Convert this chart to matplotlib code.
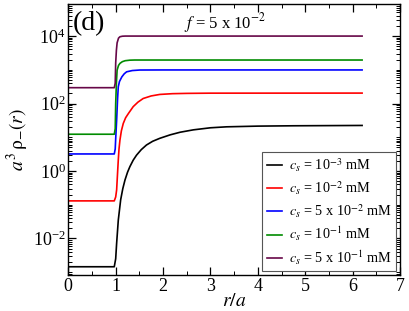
import matplotlib
matplotlib.use('Agg')
import matplotlib.pyplot as plt
from matplotlib.ticker import FixedLocator, LogLocator, MultipleLocator, NullFormatter

plt.rcParams['font.family'] = 'serif'
plt.rcParams['font.serif'] = ['Liberation Serif', 'DejaVu Serif']
plt.rcParams['mathtext.fontset'] = 'stix'

# density profiles: r/a and a^3 rho_-(r)
r_black = [0, 0.97, 1.0, 1.02, 1.055, 1.105, 1.15, 1.196, 1.25, 1.30, 1.37, 1.44, 1.54, 1.65, 1.78, 1.93, 2.15, 2.36, 2.64, 3.0, 3.34, 4.0, 4.75, 6.2]
v_black = [1.45e-3, 1.45e-3, 2.5e-3, 7.2e-3, 0.035, 0.14, 0.30, 0.54, 0.92, 1.35, 2.1, 2.95, 4.3, 5.9, 7.6, 9.3, 11.8, 14.1, 16.6, 19.1, 20.4, 21.4, 21.9, 22.4]

r_red = [0, 0.97, 1.0, 1.02, 1.04, 1.055, 1.07, 1.09, 1.12, 1.16, 1.21, 1.27, 1.37, 1.47, 1.58, 1.75, 1.93, 2.2, 2.5, 3.0, 6.2]
v_red = [0.13, 0.13, 0.17, 0.275, 0.9, 2.14, 4.5, 8.3, 15.5, 25.7, 38, 51, 81, 110, 141, 168, 186, 196, 200, 203, 204]

r_blue = [0, 0.97, 0.99, 1.0, 1.02, 1.04, 1.055, 1.08, 1.13, 1.18, 1.23, 1.35, 1.51, 2.0, 6.2]
v_blue = [3.2, 3.2, 4.5, 9.0, 32, 140, 316, 450, 617, 760, 871, 950, 985, 990, 990]

r_green = [0, 0.97, 0.99, 1.0, 1.015, 1.03, 1.06, 1.09, 1.14, 1.2, 1.3, 1.4, 6.2]
v_green = [12.3, 12.3, 18, 100, 400, 977, 1350, 1550, 1740, 1860, 1930, 1950, 1950]

r_purple = [0, 0.97, 0.99, 1.0, 1.015, 1.03, 1.06, 1.09, 1.14, 1.2, 6.2]
v_purple = [295, 295, 400, 1585, 3800, 6300, 8700, 9550, 9900, 10000, 10000]

labels = [r'$c_s$ = 10$^{-3}$ mM', r'$c_s$ = 10$^{-2}$ mM', r'$c_s$ = 5 x 10$^{-2}$ mM',
          r'$c_s$ = 10$^{-1}$ mM', r'$c_s$ = 5 x 10$^{-1}$ mM']
colors = ['black', 'red', 'blue', '#008b00', '#670748']

fig = plt.figure(figsize=(4.09, 3.11), dpi=100)
ax = fig.add_axes([0.167, 0.116, 0.811, 0.871])

curves = [(r_black, v_black), (r_red, v_red), (r_blue, v_blue), (r_green, v_green), (r_purple, v_purple)]
for (rr, vv), c, lab in zip(curves, colors, labels):
    ax.plot(rr, vv, color=c, lw=1.2, label=lab)

ax.set_yscale('log')
ax.set_xlim(0, 7)
ax.set_ylim(8.3e-4, 8.9e4)
ax.xaxis.set_major_locator(MultipleLocator(1))
ax.xaxis.set_minor_locator(MultipleLocator(0.5))
ax.yaxis.set_major_locator(FixedLocator([1e-2, 1, 1e2, 1e4]))
ax.yaxis.set_minor_locator(LogLocator(base=10, subs=range(1, 10), numticks=30))
ax.yaxis.set_minor_formatter(NullFormatter())
ax.tick_params(which='both', direction='in', top=True, right=True, labelsize=13)
ax.tick_params(which='major', length=6, width=0.9)
ax.tick_params(which='minor', length=3, width=0.7)
ax.tick_params(axis='y', pad=2)
ax.tick_params(axis='x', pad=2)
for s in ax.spines.values():
    s.set_linewidth(1.0)

ax.set_xlabel(r'$r/a$', fontsize=14, labelpad=-1)
ax.set_ylabel(r'$a^{3}\,\mathrm{\rho}_{-}(r)$', fontsize=14, labelpad=1)

ax.text(0.012, 0.975, '(d)', transform=ax.transAxes, fontsize=20, va='top', ha='left')
ax.text(3.3, 0.93, r'$f$ = 5 x 10$^{-2}$', transform=ax.get_xaxis_transform(), fontsize=12, ha='center', va='center')

leg = ax.legend(loc='lower right', fontsize=10.3, handlelength=1.1, handletextpad=0.45,
                labelspacing=0.38, borderpad=0.3, borderaxespad=0.25, fancybox=False, framealpha=1)
leg.get_frame().set_edgecolor('#555555')
leg.get_frame().set_linewidth(0.8)

fig.savefig('out.png', dpi=100)
